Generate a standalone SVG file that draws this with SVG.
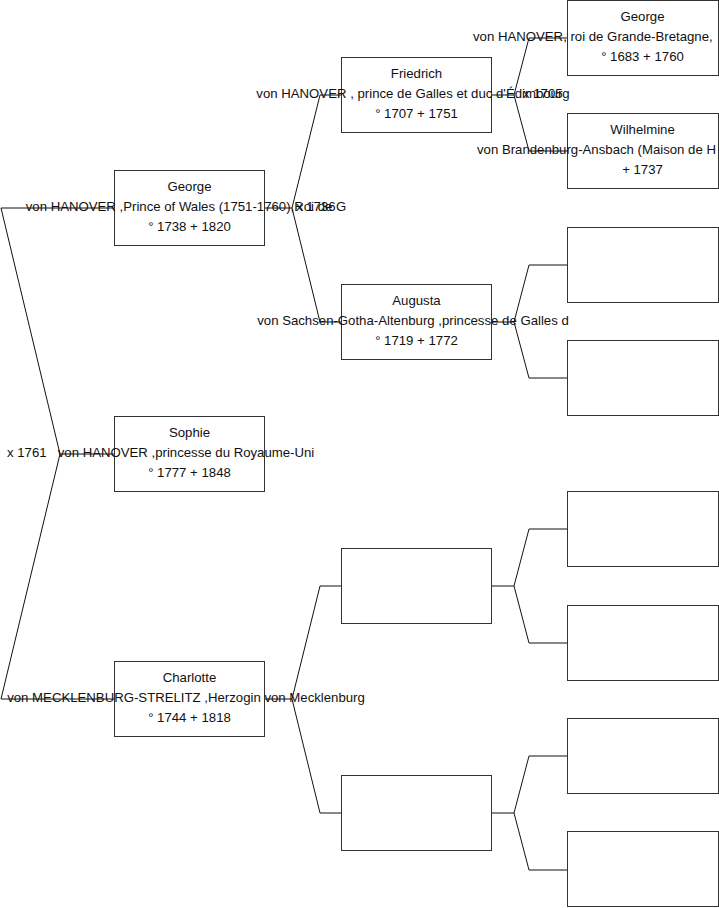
<svg xmlns="http://www.w3.org/2000/svg" width="719" height="908" viewBox="0 0 719 908">
<style>
.box{fill:#fff;stroke:#333;stroke-width:1}
.ln{fill:none;stroke:#111;stroke-width:1}
text{font-family:"Liberation Sans",Arial,sans-serif;font-size:13.2px;fill:#111}
.c{text-anchor:middle}
</style>
<rect x="0" y="0" width="719" height="908" fill="#fff"/>
<g id="connectors" class="ln">
<path d="M1,208H114M1,208L60,454L1,699M60,454H114M1,699H114"/>
<path d="M265,208H292M320,95L292,208L320,322M320,95H341M320,322H341"/>
<path d="M265,699H292M320,586L292,699L320,813M320,586H341M320,813H341"/>
<path d="M492,95H514M529,38L514,95L529,151M529,38H567M529,151H567"/>
<path d="M492,322H514M529,265L514,322L529,378M529,265H567M529,378H567"/>
<path d="M492,586H514M529,529L514,586L529,643M529,529H567M529,643H567"/>
<path d="M492,813H514M529,756L514,813L529,870M529,756H567M529,870H567"/>
</g>
<g id="node-george3">
<rect class="box" x="114.5" y="170.5" width="150" height="75"/>
<text class="c" x="189.5" y="191">George</text>
<text class="c" x="186" y="211">von HANOVER ,Prince of Wales (1751-1760),Roi de G</text>
<text class="c" x="189.5" y="231">° 1738 + 1820</text>
</g>
<g id="node-sophie">
<rect class="box" x="114.5" y="416.5" width="150" height="75"/>
<text class="c" x="189.5" y="437">Sophie</text>
<text class="c" x="186" y="457">von HANOVER ,princesse du Royaume-Uni</text>
<text class="c" x="189.5" y="477">° 1777 + 1848</text>
</g>
<g id="node-charlotte">
<rect class="box" x="114.5" y="661.5" width="150" height="75"/>
<text class="c" x="189.5" y="682">Charlotte</text>
<text class="c" x="186" y="702">von MECKLENBURG-STRELITZ ,Herzogin von Mecklenburg</text>
<text class="c" x="189.5" y="722">° 1744 + 1818</text>
</g>
<g id="node-friedrich">
<rect class="box" x="341.5" y="57.5" width="150" height="75"/>
<text class="c" x="416.5" y="78">Friedrich</text>
<text class="c" x="413" y="98">von HANOVER , prince de Galles et duc d'Édimbourg</text>
<text class="c" x="416.5" y="118">° 1707 + 1751</text>
</g>
<g id="node-augusta">
<rect class="box" x="341.5" y="284.5" width="150" height="75"/>
<text class="c" x="416.5" y="305">Augusta</text>
<text class="c" x="413" y="325">von Sachsen-Gotha-Altenburg ,princesse de Galles d</text>
<text class="c" x="416.5" y="345">° 1719 + 1772</text>
</g>
<g id="node-empty-c2a"><rect class="box" x="341.5" y="548.5" width="150" height="75"/></g>
<g id="node-empty-c2b"><rect class="box" x="341.5" y="775.5" width="150" height="75"/></g>
<g id="node-george2">
<rect class="box" x="567.5" y="0.5" width="151" height="75"/>
<text class="c" x="642.5" y="21">George</text>
<text x="473" y="41">von HANOVER, roi de Grande-Bretagne,</text>
<text class="c" x="642.5" y="61">° 1683 + 1760</text>
</g>
<g id="node-wilhelmine">
<rect class="box" x="567.5" y="113.5" width="151" height="75"/>
<text class="c" x="642.5" y="134">Wilhelmine</text>
<text x="477" y="154">von Brandenburg-Ansbach (Maison de H</text>
<text class="c" x="642.5" y="174">+ 1737</text>
</g>
<g id="node-empty-c3a"><rect class="box" x="567.5" y="227.5" width="151" height="75"/></g>
<g id="node-empty-c3b"><rect class="box" x="567.5" y="340.5" width="151" height="75"/></g>
<g id="node-empty-c3c"><rect class="box" x="567.5" y="491.5" width="151" height="75"/></g>
<g id="node-empty-c3d"><rect class="box" x="567.5" y="605.5" width="151" height="75"/></g>
<g id="node-empty-c3e"><rect class="box" x="567.5" y="718.5" width="151" height="75"/></g>
<g id="node-empty-c3f"><rect class="box" x="567.5" y="831.5" width="151" height="75"/></g>
<g id="marriage-labels">
<text x="7" y="457">x 1761</text>
<text x="296" y="211">x 1736</text>
<text x="523" y="98">x 1705</text>
</g>
</svg>
